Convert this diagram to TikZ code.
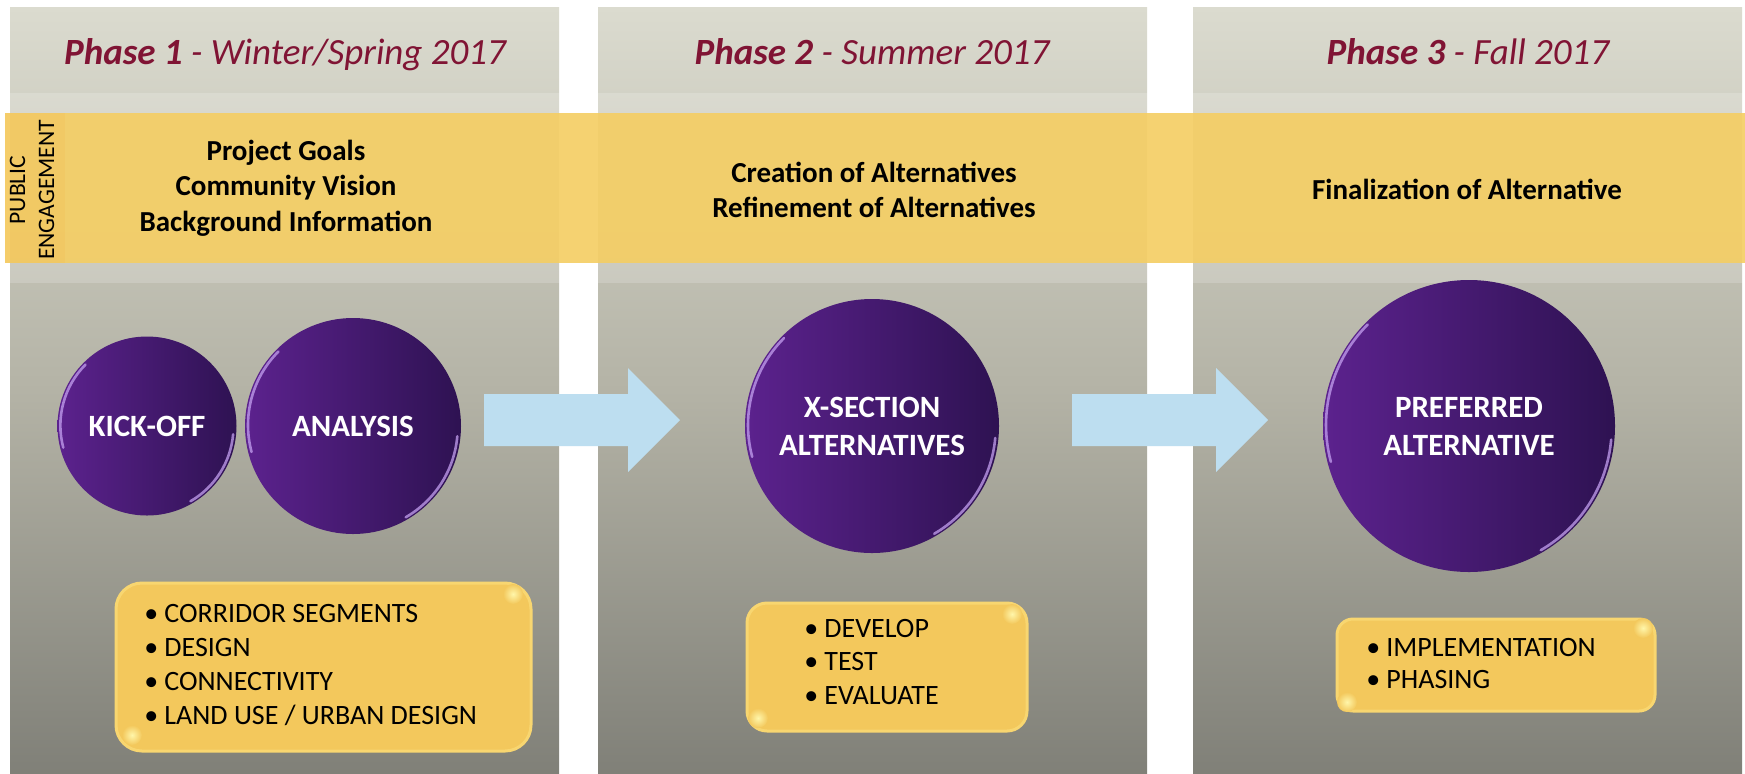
\documentclass[tikz,border=0pt]{standalone}
\usepackage{fontspec}
\setmainfont{Carlito}

\definecolor{feldoben}{RGB}{219,219,207}
\definecolor{feldmitte}{RGB}{180,179,166}
\definecolor{feldunten}{RGB}{128,128,120}
\definecolor{bandgelb}{RGB}{245,206,98}
\definecolor{kastengelb}{RGB}{243,200,92}
\definecolor{kastenrand}{RGB}{248,214,112}
\definecolor{glanz}{RGB}{255,246,170}
\definecolor{weinrot}{RGB}{128,20,52}
\definecolor{lilahell}{RGB}{92,34,142}
\definecolor{liladunkel}{RGB}{46,18,82}
\definecolor{randlila}{RGB}{196,160,240}
\definecolor{pfeilblau}{RGB}{189,222,240}

\newcommand{\pkt}{\makebox[10pt][l]{\textbullet}}

\begin{document}
\begin{tikzpicture}[x=0.5pt, y=-0.5pt,
    feld/.style={top color=feldoben, bottom color=feldunten, middle color=feldmitte},
    titel/.style={anchor=base, text=weinrot, font=\fontsize{18.5}{22}\selectfont\itshape},
    bandtext/.style={align=center, font=\fontsize{14.5}{17.75}\selectfont\bfseries},
    kreis/.style={circle, inner sep=0pt, left color=lilahell, right color=liladunkel,
        text=white, align=center, font=\fontsize{15.5}{19}\selectfont\bfseries},
    rand/.style={randlila, line width=1.3pt, opacity=0.75, line cap=round},
    kasten/.style={fill=kastengelb, draw=kastenrand, line width=1.5pt},
    liste/.style={anchor=west, inner sep=0pt, align=left, font=\fontsize{14}{16.85}\selectfont},
    pfeil/.style={fill=pfeilblau},
]

\useasboundingbox (0,0) rectangle (1745,773);
\fill[white] (0,0) rectangle (1745,773);

\shade[feld] (10,7) rectangle (559,773);
\shade[feld] (598,7) rectangle (1147,773);
\shade[feld] (1193,7) rectangle (1742,773);

\fill[white, opacity=0.18] (0,93) rectangle (1745,283);
\fill[bandgelb, opacity=0.9] (5,113) rectangle (1745,263);
\fill[orange, opacity=0.06] (5,113) rectangle (65,263);

\node [titel] (titelA) at (285,64) {\textbf{Phase 1} - Winter/Spring 2017};
\node [titel] (titelB) at (872,64) {\textbf{Phase 2} - Summer 2017};
\node [titel] (titelC) at (1468,64) {\textbf{Phase 3} - Fall 2017};

\node [rotate=90, align=center, font=\fontsize{11.8}{14.5}\selectfont] (beteiligung) at (32,190) {PUBLIC\\ENGAGEMENT};

\node [bandtext] (zieleA) at (286,188) {Project Goals\\Community Vision\\Background Information};
\node [bandtext] (zieleB) at (874,190) {Creation of Alternatives\\Refinement of Alternatives};
\node [bandtext] (zieleC) at (1467,189) {Finalization of Alternative};

\node [kreis, minimum size=89.5pt] (kickoff) at (147,426) {KICK-OFF};
\node [kreis, minimum size=108pt] (analyse) at (353,426) {ANALYSIS};
\node [kreis, minimum size=127pt] (xsection) at (872,426) {X-SECTION\\ALTERNATIVES};
\node [kreis, minimum size=146pt] (bevorzugt) at (1469,426) {PREFERRED\\ALTERNATIVE};

\foreach \k/\rad in {kickoff/43, analyse/52, xsection/61.5, bevorzugt/71}{
    \draw[rand] ([shift={(135:-1.5pt)}]\k.135) arc[start angle=135, end angle=195, radius=\rad pt];
    \draw[rand] ([shift={(-60:-1.5pt)}]\k.-60) arc[start angle=-60, end angle=-5, radius=\rad pt];
}

\foreach \s in {484,1072}
    \fill[pfeil] (\s,394) -- ++(144,0) -- ++(0,-26) -- ++(52,52) -- ++(-52,52) -- ++(0,-26) -- ++(-144,0) -- cycle;

\node [kasten, minimum width=207.5pt, minimum height=84pt, rounded corners=13pt] (kastenA) at (323.5,667) {};
\node [kasten, minimum width=140pt, minimum height=64pt, rounded corners=10pt] (kastenB) at (887,667) {};
\node [kasten, minimum width=159pt, minimum height=46pt, rounded corners=8pt] (kastenC) at (1496,665) {};

\foreach \gx/\gy in {513/594, 132/735, 1012/614, 758/718, 1643/628, 1347/702}
    \shade[inner color=glanz, outer color=kastengelb] (\gx,\gy) circle (5pt);

\node [liste] (listeA) at (144,665) {\pkt CORRIDOR SEGMENTS\\\pkt DESIGN\\\pkt CONNECTIVITY\\\pkt LAND USE / URBAN DESIGN};
\node [liste] (listeB) at (804,662) {\pkt DEVELOP\\\pkt TEST\\\pkt EVALUATE};
\node [liste, font=\fontsize{14}{16}\selectfont] (listeC) at (1366,663) {\pkt IMPLEMENTATION\\\pkt PHASING};

\end{tikzpicture}
\end{document}
